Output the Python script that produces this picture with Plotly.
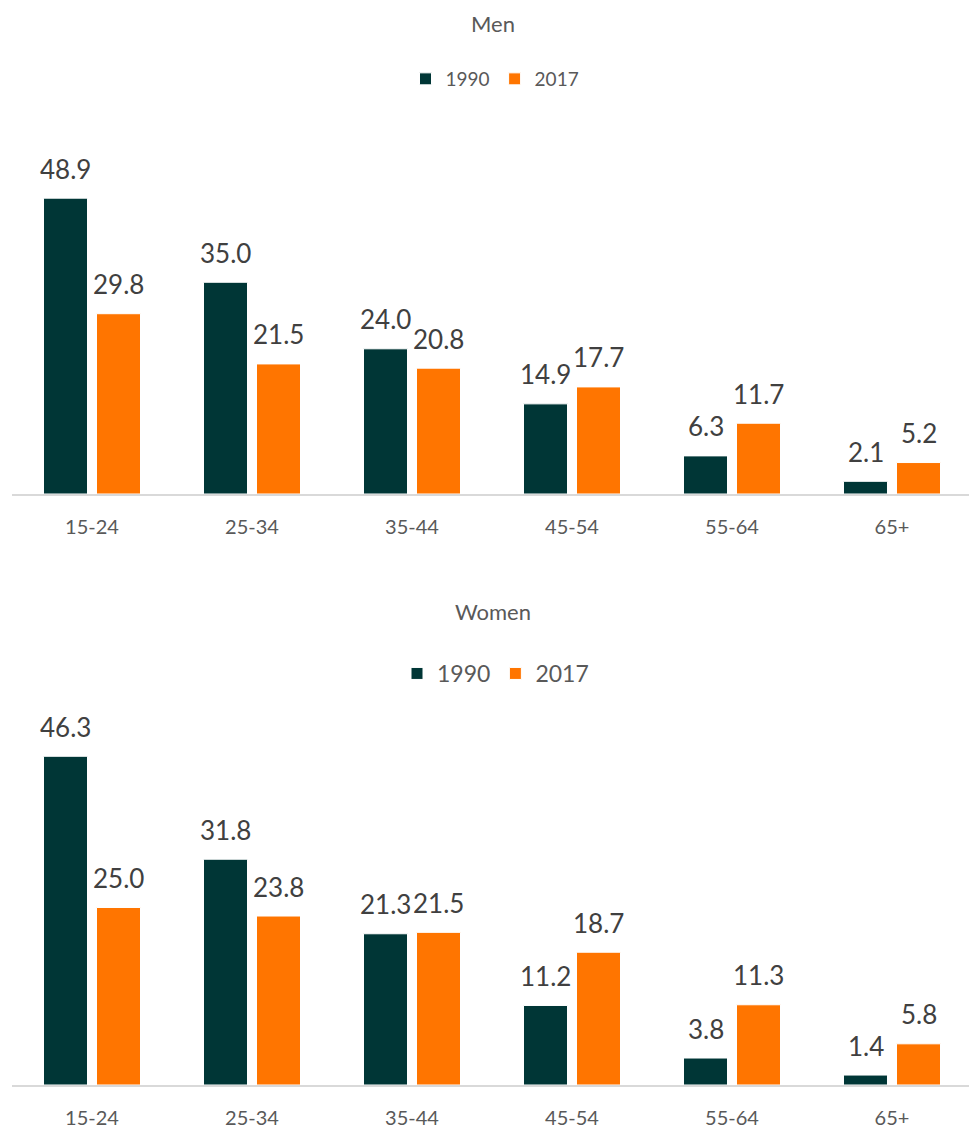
import plotly.graph_objects as go

categories = ["15-24", "25-34", "35-44", "45-54", "55-64", "65+"]
men_1990 = [48.9, 35.0, 24.0, 14.9, 6.3, 2.1]
men_2017 = [29.8, 21.5, 20.8, 17.7, 11.7, 5.2]
women_1990 = [46.3, 31.8, 21.3, 11.2, 3.8, 1.4]
women_2017 = [25.0, 23.8, 21.5, 18.7, 11.3, 5.8]

C1990 = "#003636"
C2017 = "#FF7500"
GREY = "#595959"
LABEL = "#404040"
FONT = "Lato"

OFF = 8                      # page body margin
W, H = 977 - OFF, 1129 - OFF


def py(ref_px):
    return 1 - (ref_px - OFF) / H


def px(ref_px):
    return (ref_px - OFF) / W


fig = go.Figure()


def add(y, name, color, xa, ya, legend):
    fig.add_trace(go.Bar(
        x=categories, y=y, name=name,
        marker=dict(color=color, line=dict(color="white", width=1)),
        xaxis=xa, yaxis=ya, legend=legend, hoverinfo="x+y",
    ))


add(men_1990, "1990", C1990, "x", "y", "legend")
add(men_2017, "2017", C2017, "x", "y", "legend")
add(women_1990, "1990", C1990, "x2", "y2", "legend2")
add(women_2017, "2017", C2017, "x2", "y2", "legend2")

annotations = []
for xr, yr, series_pair in (("x", "y", (men_1990, men_2017)), ("x2", "y2", (women_1990, women_2017))):
    for shift, vals in zip((-26.5, 26.5), series_pair):
        for c, v in zip(categories, vals):
            annotations.append(dict(
                x=c, y=v, xref=xr, yref=yr, text=f"{v:.1f}", showarrow=False,
                xshift=shift, yshift=29.5, xanchor="center", yanchor="middle",
                font=dict(size=26, color=LABEL, family=FONT)))

annotations += [
    dict(text="Men", x=px(492.5), y=py(23), xref="paper", yref="paper", showarrow=False,
         xanchor="center", yanchor="middle", font=dict(size=22, color=GREY, family=FONT)),
    dict(text="Women", x=px(493), y=py(611), xref="paper", yref="paper", showarrow=False,
         xanchor="center", yanchor="middle", font=dict(size=22, color=GREY, family=FONT)),
]

xdom = [px(12), px(972)]
men_base, men_scale, men_range = 494, 6.05, 60
women_base, women_scale, women_range = 1085, 7.1, 52

axis_common = dict(showgrid=False, zeroline=False, showline=True, linecolor="#D9D9D9",
                   linewidth=1.5, ticks="", fixedrange=True, ticklabelstandoff=14)

fig.update_layout(
    width=W, height=H,
    margin=dict(l=0, r=0, t=0, b=0, autoexpand=False),
    paper_bgcolor="white", plot_bgcolor="white",
    font=dict(family=FONT, color=GREY),
    barmode="group", bargap=0.3375, bargroupgap=0.17,
    xaxis=dict(domain=xdom, anchor="y", tickfont=dict(size=20, color=GREY, family=FONT), **axis_common),
    yaxis=dict(domain=[py(men_base), py(men_base - men_range * men_scale)],
               range=[0, men_range], anchor="x", visible=False, fixedrange=True),
    xaxis2=dict(domain=xdom, anchor="y2", tickfont=dict(size=20, color=GREY, family=FONT), **axis_common),
    yaxis2=dict(domain=[py(women_base), py(women_base - women_range * women_scale)],
                range=[0, women_range], anchor="x2", visible=False, fixedrange=True),
    legend=dict(orientation="h", x=px(495), xanchor="center", y=py(79), yanchor="middle",
                font=dict(size=19, color=GREY, family=FONT), itemwidth=30,
                bgcolor="rgba(0,0,0,0)", traceorder="normal"),
    legend2=dict(orientation="h", x=px(495.5), xanchor="center", y=py(673.5), yanchor="middle",
                 font=dict(size=23, color=GREY, family=FONT), itemwidth=30,
                 bgcolor="rgba(0,0,0,0)", traceorder="normal"),
    annotations=annotations,
)

fig.write_html("out.html")
